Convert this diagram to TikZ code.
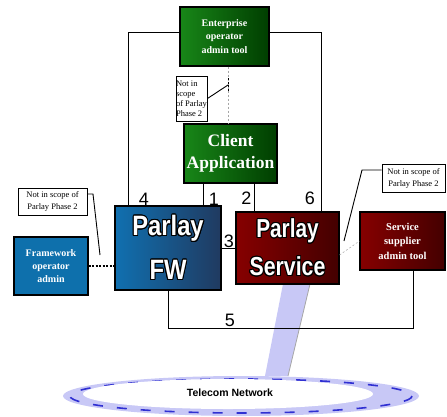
\documentclass[tikz,border=0pt]{standalone}
\usepackage{fontspec}
\usepackage{graphicx}
\usepackage{contour}
\setmainfont{Liberation Serif}
\setsansfont{Liberation Sans}
\definecolor{entgreen}{RGB}{24,134,24}
\definecolor{entdark}{RGB}{0,62,0}
\definecolor{fwblue}{RGB}{16,112,176}
\definecolor{fwnavy}{RGB}{32,58,96}
\definecolor{svcred}{RGB}{134,0,0}
\definecolor{svcdark}{RGB}{68,0,0}
\definecolor{admblue}{RGB}{14,112,172}
\definecolor{netlav}{RGB}{200,200,246}
\definecolor{netblue}{RGB}{48,48,210}
\usetikzlibrary{arrows.meta,calc}
\contourlength{1.1pt}
% white letters with a black outline
\newcommand{\bigword}[2]{\scalebox{#1}[1]{\contour{black}{\textcolor{white}{#2}}}}
\tikzset{
  greenbox/.style={draw=black, line width=1.1pt, left color=entgreen, right color=entdark, text=white, align=center, inner sep=0pt},
  redbox/.style={draw=black, line width=1.1pt, left color=svcred, right color=svcdark, text=white, align=center, inner sep=0pt},
  notebox/.style={draw=black, line width=1pt, fill=white, align=left, inner sep=1pt, font=\fontsize{8.5}{10}\selectfont},
  num/.style={font=\sffamily\fontsize{18}{18}\selectfont, inner sep=0pt},
  link/.style={draw=black, line width=0.9pt},
}
\begin{document}
\begin{tikzpicture}[x=1pt, y=-1pt]
  \useasboundingbox (0,0) rectangle (447,416);

  % light beam down to the network
  \fill[netlav] (283,284) -- (310,284) -- (288,376) -- (265,376) -- cycle;
  \draw[gray!70, line width=0.8pt] (310,284) -- (288,376);

  % telecom network
  \fill[netlav] (241,396) ellipse [x radius=178, y radius=20];
  \draw[netblue, line width=1.6pt, dash pattern=on 10pt off 14pt] (241,396) ellipse [x radius=171, y radius=17];
  \fill[white] (228,394) ellipse [x radius=145, y radius=15];
  \node[font=\sffamily\bfseries\fontsize{10.5}{12}\selectfont, inner sep=0pt] (net) at (230,393) {Telecom Network};

  \node[greenbox, minimum width=89, minimum height=59, font=\bfseries\fontsize{10}{13.3}\selectfont] (ent) at (224.5,36.5) {Enterprise\\operator\\admin tool};
  \node[greenbox, minimum width=93, minimum height=59, font=\bfseries\fontsize{17.5}{22}\selectfont] (client) at (230.5,153.5) {Client\\Application};

  \node[draw=black, line width=1.1pt, left color=fwblue, right color=fwnavy, minimum width=106, minimum height=84, inner sep=0pt, align=center,
        font=\sffamily\bfseries\fontsize{28}{44}\selectfont] (fw) at (168,248) {\bigword{0.85}{Parlay}\\\bigword{0.85}{FW}};
  \node[redbox, minimum width=103, minimum height=72, font=\sffamily\bfseries\fontsize{26}{38}\selectfont] (svc) at (287.5,248) {\bigword{0.8}{Parlay}\\\bigword{0.82}{Service}};
  \node[redbox, minimum width=85, minimum height=58, font=\bfseries\fontsize{10.5}{14.5}\selectfont] (sup) at (402.5,241) {Service\\supplier\\admin tool};
  \node[draw=black, line width=1.1pt, fill=admblue, text=white, minimum width=74, minimum height=58, inner sep=0pt, align=center,
        font=\bfseries\fontsize{10}{13}\selectfont] (fwadm) at (51,266) {Framework\\operator\\admin};

  \node[notebox, minimum width=31, minimum height=45, inner xsep=0pt] (note1) at (191.5,98.5) {Not in\\scope\\of Parlay\\Phase 2};
  \node[notebox, minimum width=69, minimum height=27, align=center, font=\fontsize{8.5}{12}\selectfont] (note2) at (52.5,201.5) {Not in scope of\\Parlay Phase 2};
  \node[notebox, minimum width=63, minimum height=28, align=center, font=\fontsize{8.5}{12}\selectfont] (note3) at (413.5,178) {Not in scope of\\Parlay Phase 2};

  \coordinate (c1) at (228,85);
  \coordinate (c3a) at (362,170);
  \coordinate (c3b) at (344,241);
  \coordinate (c2a) at (93,194);
  \coordinate (c2b) at (100,255);

  % interfaces
  \draw[link] ([yshift=4pt]ent.west) -| ([xshift=-40pt]fw.north);
  \draw[link] ([yshift=4pt]ent.east) -| ([xshift=33.5pt]svc.north);
  \draw[link] ([xshift=-27.5pt]client.south) -- ([xshift=-27.5pt]client.south |- fw.north);
  \draw[link] ([xshift=23.5pt]client.south) -- ([xshift=23.5pt]client.south |- svc.north);
  \draw[link] (fw.east) -- (svc.west);
  \draw[link] (fw.south) -- ++(0,38) -| ([xshift=10.5pt]sup.south);

  % out of scope links
  \draw[gray!70, line width=0.5pt, dash pattern=on 2pt off 2pt] ([xshift=3.5pt]ent.south) -- ([xshift=-2.5pt]client.north);
  \draw[black, line width=1pt, dash pattern=on 2pt off 1.5pt] ([yshift=7pt]c1) -- ([yshift=-7pt]c1);
  \draw[gray!70, line width=0.5pt, dash pattern=on 2pt off 2pt] ([yshift=-7pt]svc.east) -- (sup.west);
  \draw[black, line width=2pt, dash pattern=on 2pt off 1.5pt] (fwadm.east) -- (fwadm.east -| fw.west);
  \draw[link] (note1.east) -- (c1);
  \draw[link] ([yshift=7.5pt]note2.east) -- (c2a) -- (c2b);
  \draw[link] ([yshift=8pt]note3.west) -- (c3a) -- (c3b);

  \node[num] (n4) at (144,199) {4};
  \node[num] (n1) at (214,199) {1};
  \node[num] (n2) at (246.5,198.5) {2};
  \node[num] (n6) at (310,198.5) {6};
  \node[num] (n3) at (229,241.5) {3};
  \node[num] (n5) at (230,320) {5};
\end{tikzpicture}
\end{document}
